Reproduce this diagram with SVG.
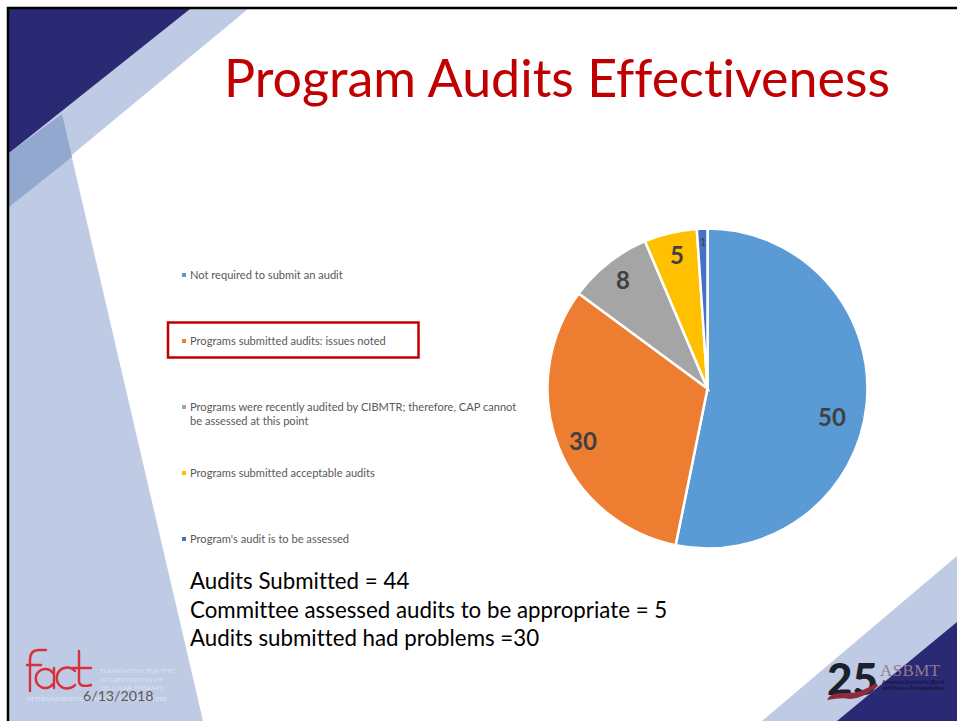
<svg xmlns="http://www.w3.org/2000/svg" width="957" height="721" viewBox="0 0 957 721">
<style>
text{font-variant-ligatures:none}
.lg{font-family:"Lato","Noto Sans",sans-serif;font-size:11.1px;fill:#595959}
.big{font-family:"Lato","Noto Sans",sans-serif;font-size:22.3px;fill:#000}
.val{font-family:"Lato","Noto Sans",sans-serif;font-size:24px;font-weight:700;fill:#404040;text-anchor:middle}
.s{stroke:#fff;stroke-width:2.5}
.tiny{font-family:"Lato",sans-serif;font-size:6.2px;fill:#dde3f1;letter-spacing:.3px}
.fact{fill:none;stroke:#d9303c;stroke-width:2.4;stroke-linecap:round}
.asb{font-family:"Lato",sans-serif;font-size:5.4px;font-weight:700;fill:#15163c}
</style>
<rect width="957" height="721" fill="#fff"/>
<g id="background">
<polygon points="9,9 248,9 9,207" fill="#bfcbe4"/>
<polygon points="9,155 62,115 203,721 9,721" fill="#bfcbe4"/>
<polygon points="9,9 190,9 9,153" fill="#292a73"/>
<polygon points="9,153 62,114 72,157 9,207" fill="#93a8cf"/>
<polygon points="957,556 762,721 957,721" fill="#bfcbe4"/>
<polygon points="957,622 837,721 957,721" fill="#292a73"/>
<path d="M8,721V8H957" fill="none" stroke="#000" stroke-width="2.5"/>
</g>
<text id="title" x="224" y="97" font-family="Lato,'Noto Sans',sans-serif" font-size="53" fill="#c00000" textLength="666" lengthAdjust="spacingAndGlyphs">Program Audits Effectiveness</text>
<g id="pie">
<g transform="translate(.5,.5)">
<path class="s" fill="#5b9bd5" d="M707,388V228A160,160 0 1 1 675.1,544.8Z"/>
<path class="s" fill="#ed7d31" d="M707,388L675.1,544.8A160,160 0 0 1 578.2,293.1Z"/>
<path class="s" fill="#a5a5a5" d="M707,388L578.2,293.1A160,160 0 0 1 644.5,240.7Z"/>
<path class="s" fill="#ffc000" d="M707,388L644.5,240.7A160,160 0 0 1 696.3,228.4Z"/>
<path class="s" fill="#4472c4" d="M707,388L696.3,228.4A160,160 0 0 1 707,228Z"/>
</g>
<text class="val" x="832" y="426">50</text>
<text class="val" x="583" y="450">30</text>
<text class="val" x="623" y="289">8</text>
<text class="val" x="677" y="264">5</text>
<text x="703" y="246" font-family="Lato,sans-serif" font-size="10.5" fill="#404040" text-anchor="middle">1</text>
</g>
<g id="legend">
<rect x="182" y="273" width="4" height="4" fill="#5b9bd5"/>
<text class="lg" x="190" y="279">Not required to submit an audit</text>
<rect id="highlight" x="168" y="322.5" width="250.5" height="35" fill="none" stroke="#c00000" stroke-width="2.5"/>
<rect x="182" y="339" width="4" height="4" fill="#ed7d31"/>
<text class="lg" x="190" y="345">Programs submitted audits: issues noted</text>
<rect x="182" y="405" width="4" height="4" fill="#a5a5a5"/>
<text class="lg" x="190" y="411">Programs were recently audited by CIBMTR; therefore, CAP cannot</text>
<text class="lg" x="190" y="425">be assessed at this point</text>
<rect x="182" y="471" width="4" height="4" fill="#ffc000"/>
<text class="lg" x="190" y="477">Programs submitted acceptable audits</text>
<rect x="182" y="537" width="4" height="4" fill="#4472c4"/>
<text class="lg" x="190" y="543">Program's audit is to be assessed</text>
</g>
<g id="summary">
<text class="big" x="190" y="589">Audits Submitted = 44</text>
<text class="big" x="190" y="618">Committee assessed audits to be appropriate = 5</text>
<text class="big" x="190" y="646">Audits submitted had problems =30</text>
</g>
<g id="fact-logo">
<path class="fact" d="M46,650H39Q30,650 30,660V691M27,665H41"/>
<path class="fact" d="M53,673A9.5,9.5 0 1 0 53,684M54,668V688"/>
<path class="fact" d="M75,671A10.5,10.5 0 1 0 75,685"/>
<path class="fact" d="M79,651V681Q79,688 91,685M73,668H91"/>
<text class="tiny" x="100" y="673">FOUNDATION FOR THE</text>
<text class="tiny" x="100" y="682">ACCREDITATION OF</text>
<text class="tiny" x="100" y="690">CELLULAR THERAPY</text>
<text class="tiny" x="27" y="701" textLength="140">AT THE UNIVERSITY OF NEBRASKA MEDICAL CENTER</text>
</g>
<text id="date" x="83" y="701" font-family="Lato,sans-serif" font-size="14.2" fill="#595959">6/13/2018</text>
<g id="asbmt-logo">
<text x="827" y="695" font-family="Lato,sans-serif" font-size="44" font-weight="900" fill="#1c1f2c">25</text>
<path d="M876,683Q860,694 845,693Q830,692 827,700Q842,697 850,699Q865,698 878,686Z" fill="#8e2a3c"/>
<text x="880" y="676" font-family="'Liberation Serif',serif" font-size="17" fill="#96788f" textLength="60">ASBMT</text>
<text class="asb" x="882" y="684" textLength="62">American Society for Blood</text>
<text class="asb" x="882" y="689.5" textLength="62">and Marrow Transplantation</text>
</g>
</svg>
